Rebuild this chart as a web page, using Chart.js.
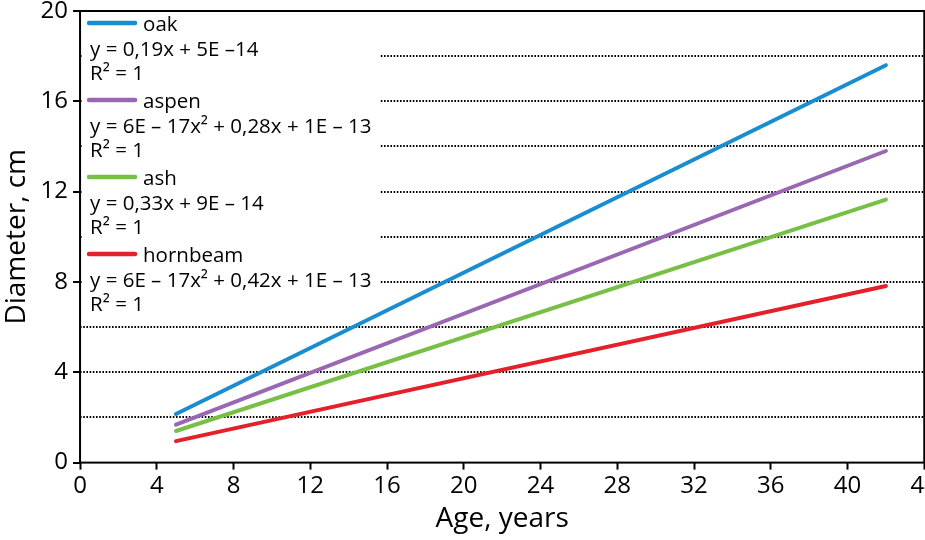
<!DOCTYPE html>
<html>
<head>
<meta charset="utf-8">
<script src="https://cdn.jsdelivr.net/npm/chart.js@4/dist/chart.umd.min.js"></script>
<style>
  html, body { margin: 0; padding: 0; background: #fff; overflow: hidden; }
  #wrap { width: 940px; height: 540px; }
</style>
</head>
<body>
<div id="wrap"><canvas id="chart"></canvas></div>
<script>
// values
const ages = [5, 42];
const oak = [2.15, 17.6];
const aspen = [1.68, 13.8];
const ash = [1.4, 11.65];
const hornbeam = [0.95, 7.82];

const names = ['oak', 'aspen', 'ash', 'hornbeam'];
const colors = ['#1a8dd0', '#9a68b3', '#77bf45', '#e4202a'];
const equations = [
  'y = 0,19x + 5E \u201314',
  'y = 6E \u2013 17x\u00b2 + 0,28x + 1E \u2013 13',
  'y = 0,33x + 9E \u2013 14',
  'y = 6E \u2013 17x\u00b2 + 0,42x + 1E \u2013 13'
];
const r2 = ['R\u00b2 = 1', 'R\u00b2 = 1', 'R\u00b2 = 1', 'R\u00b2 = 1'];
const series = [oak, aspen, ash, hornbeam];

const FONT = '"Open Sans", sans-serif';

const pts = arr => arr.map((v, i) => ({x: ages[i], y: v}));

// white legend box with equations, drawn under the lines
const legendBox = {
  id: 'legendBox',
  beforeDatasetsDraw(chart) {
    const {ctx, chartArea: a} = chart;
    ctx.save();
    ctx.fillStyle = '#fff';
    ctx.fillRect(a.left + 2, a.top + 2, 298, 304);
    ctx.font = '20.5px ' + FONT;
    ctx.fillStyle = '#000';
    ctx.textBaseline = 'alphabetic';
    names.forEach((n, i) => {
      const b = a.top + 20 + i * 77;
      ctx.strokeStyle = colors[i];
      ctx.lineWidth = 4.5;
      ctx.lineCap = 'round';
      ctx.beginPath();
      ctx.moveTo(a.left + 9, b - 8);
      ctx.lineTo(a.left + 55, b - 8);
      ctx.stroke();
      ctx.fillText(n, a.left + 63, b);
      ctx.fillText(equations[i], a.left + 10, b + 25);
      ctx.fillText(r2[i], a.left + 10, b + 49);
    });
    ctx.restore();
  },
  afterDatasetsDraw(chart) {
    const {ctx, chartArea: a} = chart;
    ctx.save();
    ctx.strokeStyle = '#000';
    ctx.lineWidth = 2;
    ctx.strokeRect(a.left, a.top, a.right - a.left, a.bottom - a.top);
    ctx.restore();
  }
};

new Chart(document.getElementById('chart'), {
  type: 'line',
  data: {
    datasets: series.map((s, i) => ({
      label: names[i],
      data: pts(s),
      borderColor: colors[i],
      borderWidth: 4,
      borderCapStyle: 'round',
      pointRadius: 0,
      fill: false,
      tension: 0
    }))
  },
  options: {
    responsive: true,
    maintainAspectRatio: false,
    animation: false,
    layout: {padding: {left: 0, right: 9, top: 0, bottom: 4}},
    plugins: {legend: {display: false}, tooltip: {enabled: false}},
    scales: {
      x: {
        type: 'linear', min: 0, max: 44,
        ticks: {stepSize: 4, color: '#000', font: {family: FONT, size: 24}, padding: 2, maxRotation: 0},
        grid: {drawOnChartArea: false, drawTicks: true, tickLength: 7, tickColor: '#000', tickWidth: 2},
        border: {display: false},
        title: {display: true, text: 'Age, years', color: '#000', font: {family: FONT, size: 28}, padding: {top: 0, bottom: 0}}
      },
      y: {
        type: 'linear', min: 0, max: 20,
        ticks: {
          stepSize: 2, color: '#000', font: {family: FONT, size: 24, lineHeight: 0.5}, padding: 5,
          callback: v => (v % 4 === 0 ? v : '')
        },
        grid: {
          color: c => (c.tick && (c.tick.value === 0 || c.tick.value === 20) ? 'rgba(0,0,0,0)' : '#000'),
          lineWidth: 2,
          tickLength: 7,
          tickWidth: 2,
          tickColor: c => (c.tick && c.tick.value % 4 === 0 ? '#000' : 'rgba(0,0,0,0)')
        },
        border: {display: false, dash: [1.6, 1.6]},
        title: {display: true, text: 'Diameter, cm', color: '#000', font: {family: FONT, size: 28}, padding: {top: 0, bottom: 2}}
      }
    }
  },
  plugins: [legendBox]
});
</script>
</body>
</html>
